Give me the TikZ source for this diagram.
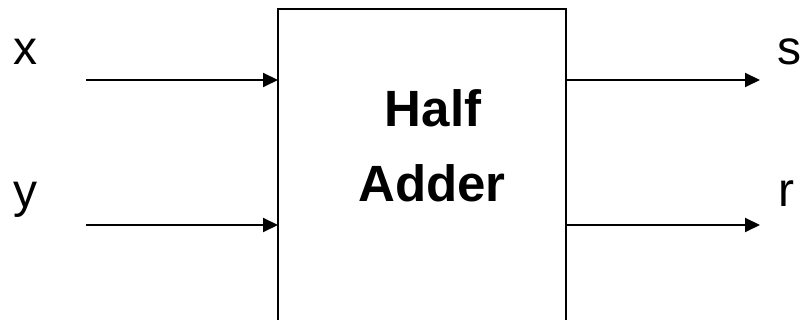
\documentclass[tikz,border=0pt]{standalone}
\usepackage{fontspec}
\setmainfont{Liberation Sans}
\usetikzlibrary{arrows.meta}
\begin{document}
\begin{tikzpicture}[x=1pt,y=-1pt,
  sig/.style={font=\fontsize{48}{58}\selectfont, anchor=base, inner sep=0pt},
  title/.style={font=\fontsize{51}{60}\selectfont\bfseries, anchor=base, inner sep=0pt},
  wire/.style={line width=2pt, -{Triangle[length=15pt,width=14pt]}}]
\useasboundingbox (0,0) rectangle (804,320);
\clip (0,0) rectangle (804,320);
\draw[line width=2pt] (278,340) -- (278,9) -- (566,9) -- (566,340);
\coordinate (inx) at (278,80);
\coordinate (iny) at (278,225);
\coordinate (outs) at (566,80);
\coordinate (outr) at (566,225);
\coordinate (srcx) at (86,80);
\coordinate (srcy) at (86,225);
\coordinate (dsts) at (760,80);
\coordinate (dstr) at (760,225);
\draw[wire] (srcx) -- (inx);
\draw[wire] (srcy) -- (iny);
\draw[wire] (outs) -- (dsts);
\draw[wire] (outr) -- (dstr);
\node[sig] (lx) at (25,65) {x};
\node[sig] (ly) at (25,208) {y};
\node[sig] (ls) at (789,65) {s};
\node[sig] (lr) at (786,207) {r};
\node[title] (half) at (433,127) {Half};
\node[title] (adder) at (432,202) {Adder};
\end{tikzpicture}
\end{document}
